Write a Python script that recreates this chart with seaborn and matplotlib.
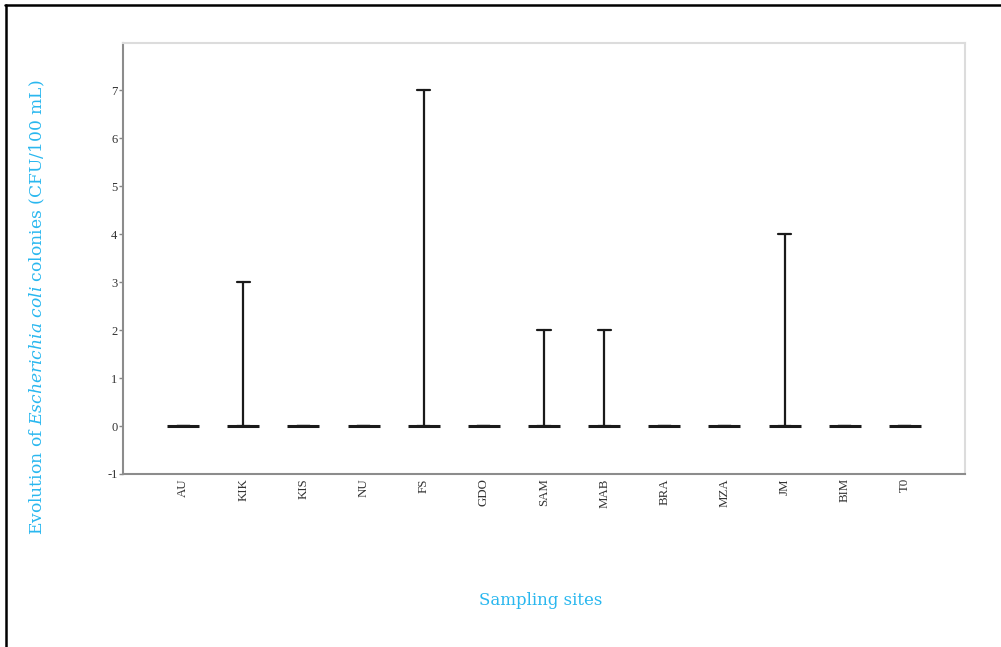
import pandas as pd
import seaborn as sns
import matplotlib.pyplot as plt
from matplotlib.lines import Line2D

# data: min and max counts per sampling site
sites = ['AU', 'KIK', 'KIS', 'NU', 'FS', 'GDO', 'SAM', 'MAB', 'BRA', 'MZA', 'JM', 'BIM', 'T0']
cfu_min = [0, 0, 0, 0, 0, 0, 0, 0, 0, 0, 0, 0, 0]
cfu_max = [0, 3, 0, 0, 7, 0, 2, 2, 0, 0, 4, 0, 0]
yticks = [-1, 0, 1, 2, 3, 4, 5, 6, 7]

df = pd.DataFrame({'site': sites * 2, 'cfu': cfu_min + cfu_max})

sns.set_style('white')
plt.rcParams['mathtext.fontset'] = 'custom'
plt.rcParams['mathtext.rm'] = 'DejaVu Serif'
plt.rcParams['mathtext.it'] = 'DejaVu Serif:italic'

blue = '#29b7ef'

fig = plt.figure(figsize=(10.01, 6.47), dpi=100)
ax = fig.add_axes([0.1229, 0.2674, 0.8411, 0.6661])

# range from min to max with caps, wide bar at the minimum
sns.pointplot(x='site', y='cfu', data=df, order=sites, ax=ax,
              estimator='min', errorbar=('pi', 100), capsize=0.22,
              color='#1a1a1a', linestyle='none', marker='_',
              markersize=23, markeredgewidth=2.2,
              err_kws={'linewidth': 1.6})

ax.set_xlim(-1, 13)
ax.set_ylim(-1, 7.98)
ax.set_yticks(yticks)
ax.set_yticklabels([str(t) for t in yticks], family='Liberation Serif', fontsize=9, color='#333333')
ax.set_xticks(range(len(sites)))
ax.set_xticklabels(sites, rotation=90, family='Liberation Serif', fontsize=9.3, color='#333333')
ax.tick_params(axis='y', length=3, width=1, color='#888888', pad=1, left=True)
ax.tick_params(axis='x', length=0, pad=3)

for s in ['left', 'bottom']:
    ax.spines[s].set_color('#8c8c8c')
    ax.spines[s].set_linewidth(1.5)
for s in ['top', 'right']:
    ax.spines[s].set_color('#dcdcdc')
    ax.spines[s].set_linewidth(1.5)

ax.set_xlabel('')
ax.set_ylabel('')
fig.text(0.037, 0.525, r'Evolution of $\it{Escherichia\ coli}$ colonies (CFU/100 mL)',
         rotation=90, ha='center', va='center', color=blue,
         family='DejaVu Serif', fontsize=12.3)
fig.text(0.54, 0.072, 'Sampling sites', ha='center', va='center', color=blue,
         family='DejaVu Serif', fontsize=12)

# page frame (top and left edge of the screenshot)
fig.add_artist(Line2D([0.005, 1.0], [0.993, 0.993], transform=fig.transFigure, color='black', linewidth=1.8))
fig.add_artist(Line2D([0.0055, 0.0055], [0.0, 0.993], transform=fig.transFigure, color='black', linewidth=1.8))

fig.savefig('out.png', dpi=100)
